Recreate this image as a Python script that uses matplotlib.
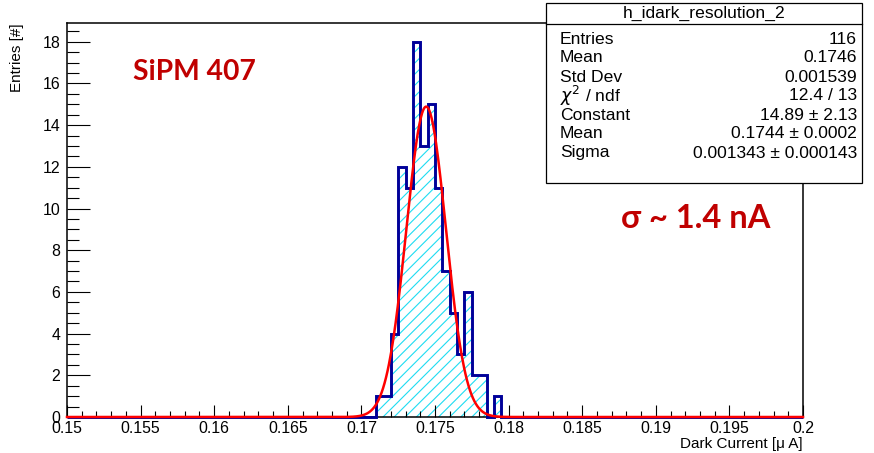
import numpy as np
import matplotlib
matplotlib.use("Agg")
import matplotlib.pyplot as plt
from matplotlib.patches import Rectangle
from matplotlib.ticker import MultipleLocator, FormatStrFormatter

# histogram: 100 bins from 0.15 to 0.2, counts
n_bins = 100
x_min, x_max = 0.15, 0.2
first_filled = 0.171          # left edge of first non-empty bin
filled_counts = [1, 1, 4, 12, 11, 18, 13, 15, 11, 7, 5, 3, 6, 2, 2, 0, 1]

# gaussian fit parameters (from stats box)
fit_const = 14.89
fit_mean = 0.1744
fit_sigma = 0.001343

stat_labels = ["Entries", "Mean", "Std Dev", r"$\chi^2$ / ndf", "Constant", "Mean", "Sigma"]
stat_values = ["116", "0.1746", "0.001539", "12.4 / 13", "14.89 \u00b1 2.13",
               "0.1744 \u00b1 0.0002", "0.001343 \u00b1 0.000143"]
hist_name = "h_idark_resolution_2"

plt.rcParams["font.family"] = ["Liberation Sans", "DejaVu Sans"]

edges = np.linspace(x_min, x_max, n_bins + 1)
counts = np.zeros(n_bins)
i0 = int(round((first_filled - x_min) / (edges[1] - edges[0])))
counts[i0:i0 + len(filled_counts)] = filled_counts

W, H = 874, 453
fig = plt.figure(figsize=(W / 100, H / 100), dpi=100)
ax = fig.add_axes([67 / W, 1 - 417 / H, (803 - 67) / W, (417 - 23) / H])

cyan = "#1edcf2"
navy = "#000099"
plt.rcParams["hatch.linewidth"] = 0.8
ax.stairs(counts, edges, fill=True, facecolor="none", edgecolor=cyan,
          hatch="///", lw=0)
ax.stairs(counts, edges, color=navy, lw=2.1, clip_on=False, zorder=3)

xf = np.linspace(x_min, x_max, 1000)
yf = fit_const * np.exp(-0.5 * ((xf - fit_mean) / fit_sigma) ** 2)
ax.plot(xf, yf, color="red", lw=1.8, clip_on=False, zorder=4)

ax.set_xlim(x_min, x_max)
ax.set_ylim(0, 18.9)
ax.xaxis.set_major_locator(MultipleLocator(0.005))
ax.xaxis.set_minor_locator(MultipleLocator(0.001))
ax.xaxis.set_major_formatter(FormatStrFormatter("%g"))
ax.yaxis.set_major_locator(MultipleLocator(2))
ax.yaxis.set_minor_locator(MultipleLocator(0.5))
ax.tick_params(axis="both", which="both", direction="in", width=0.8,
               labelsize=11.4, top=False, right=False)
ax.tick_params(axis="y", which="major", length=16.5, pad=5)
ax.tick_params(axis="y", which="minor", length=8.5)
ax.tick_params(axis="x", which="major", length=8.5, pad=3)
ax.tick_params(axis="x", which="minor", length=4.5)
for s in ax.spines.values():
    s.set_linewidth(1.1)

ax.set_ylabel("Entries [#]", fontsize=11, loc="top")
ax.yaxis.set_label_coords(-0.058, 1.0)
ax.set_xlabel("Dark Current [\u03bc A]", fontsize=11, loc="right")
ax.xaxis.set_label_coords(1.0, -0.05)
ax.xaxis.label.set_va("top")

# annotations
fig.text(133 / W, 1 - 72 / H, "SiPM 407", family="Lato", weight="bold",
         fontsize=20.3, color="#c00000", va="center")
fig.text(621 / W, 1 - 219 / H, "\u03c3 ~ 1.4 nA", family="Lato", weight="bold",
         fontsize=23.5, color="#c00000", va="center")

# stats box
bx0, bx1, by0, by1 = 546, 862, 3, 183
fig.add_artist(Rectangle((bx0 / W, 1 - by1 / H), (bx1 - bx0) / W, (by1 - by0) / H,
                         transform=fig.transFigure, facecolor="white",
                         edgecolor="black", lw=0.9, zorder=5))
fig.add_artist(plt.Line2D([bx0 / W, bx1 / W], [1 - 24 / H, 1 - 24 / H],
                          transform=fig.transFigure, color="black", lw=0.9, zorder=6))
fig.text((bx0 + bx1) / 2 / W, 1 - 13 / H, hist_name, ha="center", va="center",
         fontsize=12.6, zorder=7)
for k, (lab, val) in enumerate(zip(stat_labels, stat_values)):
    yy = 1 - (39 + 19 * k) / H
    fig.text(560 / W, yy, lab, ha="left", va="center", fontsize=12.6, zorder=7)
    fig.text(857 / W, yy, val, ha="right", va="center", fontsize=12.6, zorder=7)

fig.savefig("out.png", dpi=100)
